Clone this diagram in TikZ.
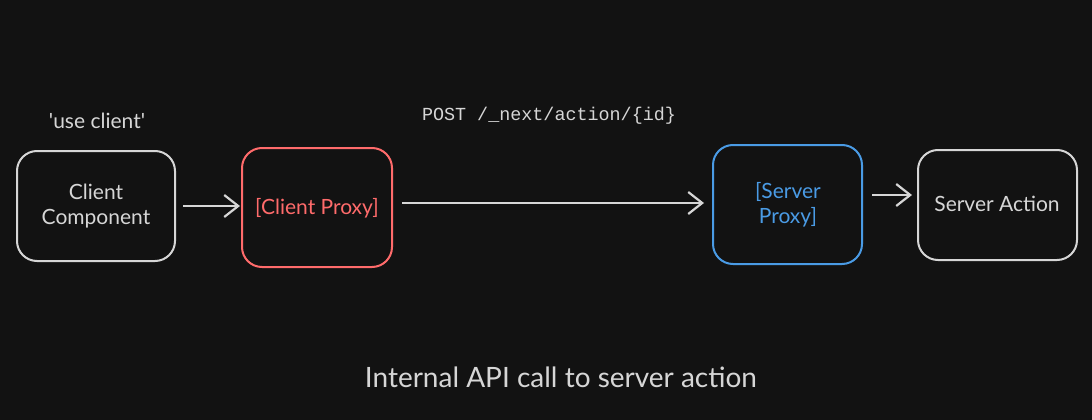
\documentclass[tikz,border=0pt]{standalone}
\usepackage{fontspec}
\setmainfont{Lato}
\setmonofont{Liberation Mono}
\usetikzlibrary{arrows.meta}
\definecolor{bg}{HTML}{121212}
\definecolor{fg}{HTML}{D6D6D6}
\definecolor{redc}{HTML}{FF6B6B}
\definecolor{bluec}{HTML}{4A9BE5}
\tikzset{
  box/.style={draw, line width=2pt, rounded corners=20pt},
  lbl/.style={text=fg, font=\fontsize{21}{25}\selectfont, align=center},
  conn/.style={draw=fg, line width=2.8pt, -{Straight Barb[length=14pt,width=22pt,line width=2.2pt]}}
}
\begin{document}
\begin{tikzpicture}[x=1pt,y=-1pt]
\fill[bg] (0,0) rectangle (1092,420);
\useasboundingbox (0,0) rectangle (1092,420);
% boxes
\draw[box, fg] (17,151) rectangle (175,261);
\node[lbl] (cc) at (96,206) {Client\\Component};
\coordinate (ccR) at (183,206);
\draw[box, redc] (242,148) rectangle (392,267);
\node[lbl, text=redc] (cp) at (317,208) {[Client Proxy]};
\coordinate (cpL) at (240,206);
\coordinate (cpR) at (402,203);
\draw[box, bluec] (713,145) rectangle (862,264);
\node[lbl, text=bluec] (sp) at (788,205) {[Server\\Proxy]};
\coordinate (spL) at (704,203);
\coordinate (spR) at (872,195);
\draw[box, fg] (918,150) rectangle (1077,260);
\node[lbl] (sa) at (997,204) {Server Action};
\coordinate (saL) at (912,195);
% connectors
\draw[conn] (ccR) -- (cpL);
\draw[conn] (cpR) -- (spL);
\draw[conn] (spR) -- (saL);
% texts
\node[lbl] (uc) at (97,121) {\textquotesingle use client\textquotesingle};
\node[text=fg, font=\ttfamily\fontsize{18.4}{22}\selectfont] (post) at (549,116) {POST /\_next/action/\{id\}};
\node[text=fg, font=\fontsize{28}{32}\selectfont] (cap) at (561,377) {Internal API call to server action};
\end{tikzpicture}
\end{document}
